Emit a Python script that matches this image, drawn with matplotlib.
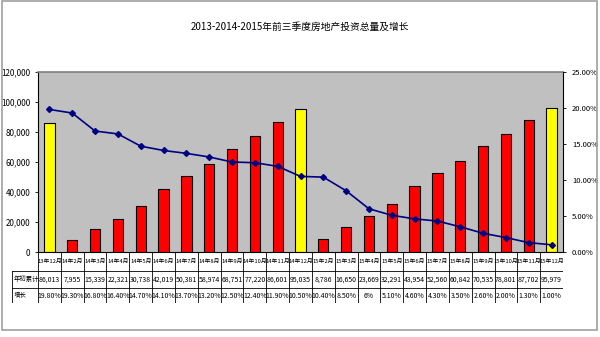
import numpy as np
import matplotlib.pyplot as plt
from matplotlib.patches import Rectangle
from matplotlib.ticker import FuncFormatter

plt.rcParams['font.family'] = ['Liberation Sans Narrow', 'Noto Sans CJK SC', 'DejaVu Sans']

months = ["13年12月", "14年2月", "14年3月", "14年4月", "14年5月", "14年6月",
          "14年7月", "14年8月", "14年9月", "14年10月", "14年11月", "14年12月",
          "15年2月", "15年3月", "15年4月", "15年5月", "15年6月", "15年7月",
          "15年8月", "15年9月", "15年10月", "15年11月", "15年12月"]
# 年初累计 (亿元)
invest = [86013, 7955, 15339, 22321, 30738, 42019, 50381, 58974, 68751, 77220,
          86601, 95035, 8786, 16650, 23669, 32291, 43954, 52560, 60842, 70535,
          78801, 87702, 95979]
# 增长 (%)
growth = [19.8, 19.3, 16.8, 16.4, 14.7, 14.1, 13.7, 13.2, 12.5, 12.4, 11.9, 10.5,
          10.4, 8.5, 6.0, 5.1, 4.6, 4.3, 3.5, 2.6, 2.0, 1.3, 1.0]
short_pct = {"15年4月"}

n = len(months)
x = np.arange(n)
W, H = 600, 337

fig = plt.figure(figsize=(6, 3.37), dpi=100)
fig.patches.append(Rectangle((2 / W, 1 - 330 / H), 595 / W, 329 / H,
                             transform=fig.transFigure, fill=False,
                             edgecolor='#a0a0a0', lw=1.2))

fig.text(0.5, 1 - 27 / H, "2013-2014-2015年前三季度房地产投资总量及增长",
         ha='center', va='center', fontsize=7)

px0, px1, py0, py1 = 38, 563, 72, 252
ax = fig.add_axes([px0 / W, 1 - py1 / H, (px1 - px0) / W, (py1 - py0) / H])
ax.set_facecolor('#c0c0c0')

colors = ['#ffff00' if m.endswith("12月") else '#ff0000' for m in months]
ax.bar(x, invest, width=0.45, color=colors, edgecolor='black', lw=0.8, zorder=2)
ax.set_xlim(-0.5, n - 0.5)
ax.set_ylim(0, 120000)
ax.set_yticks(np.arange(0, 120001, 20000))
ax.yaxis.set_major_formatter(FuncFormatter(lambda v, p: f"{int(v):,}"))
ax.tick_params(axis='y', labelsize=5.8, length=2.5, width=0.6, pad=3)
ax.set_xticks([])
for s in ['left', 'bottom']:
    ax.spines[s].set_color('black')
    ax.spines[s].set_linewidth(0.8)
ax.spines['top'].set_color('#808080')
ax.spines['top'].set_linewidth(1.2)
ax.spines['right'].set_visible(False)

ax2 = ax.twinx()
ax2.plot(x, growth, color='#000080', lw=1.2, marker='D', markersize=3,
         zorder=3)
ax2.set_ylim(0, 25)
ax2.set_yticks(np.arange(0, 26, 5))
ax2.yaxis.set_major_formatter(FuncFormatter(lambda v, p: f"{v:.2f}%"))
ax2.tick_params(axis='y', labelsize=5.5, length=2.5, width=0.6, pad=4)
ax2.spines['right'].set_color('black')
ax2.spines['right'].set_linewidth(0.8)
for s in ['left', 'top', 'bottom']:
    ax2.spines[s].set_visible(False)

# data table under the plot
tx0, ty0, ty1 = 12, 252, 303
lab_w = (px0 - tx0) / ((px1 - px0) / n)
tab = fig.add_axes([tx0 / W, 1 - ty1 / H, (px1 - tx0) / W, (ty1 - ty0) / H])
tab.set_xlim(-0.5 - lab_w, n - 0.5)
tab.set_ylim(0, ty1 - ty0)
tab.axis('off')
r_grow, r_val, r_cat = (0, 15), (15, 32), (32, 51)
lkw = dict(color='black', lw=0.6)
for yv in [0, 15, 32]:
    tab.plot([-0.5 - lab_w, n - 0.5], [yv, yv], **lkw)
for i in range(n + 1):
    tab.plot([i - 0.5, i - 0.5], [0, 51], **lkw)
tab.plot([-0.5 - lab_w] * 2, [0, 32], **lkw)

fs = 5
cjk = ['Noto Sans CJK SC', 'DejaVu Sans']
lab_x = -0.5 - lab_w + 0.06
tab.text(lab_x, sum(r_val) / 2, "年初累计", ha='left', va='center',
         fontsize=4.6, family=cjk)
tab.text(lab_x, sum(r_grow) / 2, "增长", ha='left', va='center',
         fontsize=4.6, family=cjk)
for i in range(n):
    g = growth[i]
    gl = f"{g:g}%" if months[i] in short_pct else f"{g:.2f}%"
    tab.text(i, sum(r_cat) / 2, months[i], ha='center', va='center',
             fontsize=4.2)
    tab.text(i, sum(r_val) / 2, f"{invest[i]:,}", ha='center', va='center',
             fontsize=fs)
    tab.text(i, sum(r_grow) / 2, gl, ha='center', va='center', fontsize=fs)

fig.savefig("out.png", dpi=100)
